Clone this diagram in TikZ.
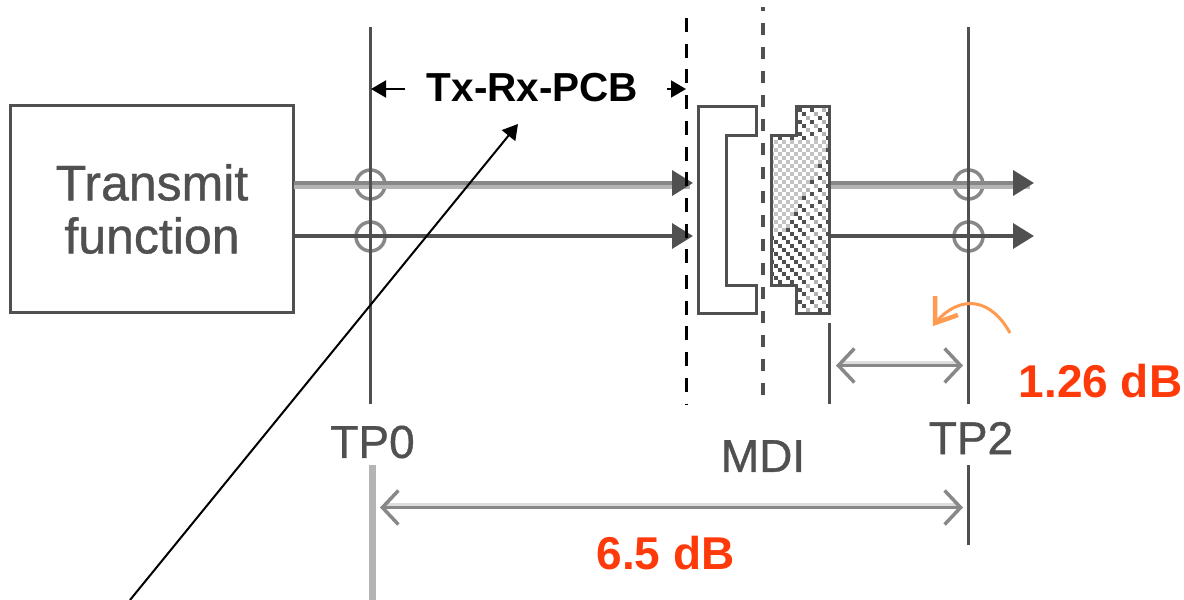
\documentclass[tikz,border=0pt]{standalone}
\usepackage{fontspec}
\setmainfont{Liberation Sans}
\newfontfamily\gf[FakeBold=0.8]{Liberation Sans}
\usetikzlibrary{arrows.meta}
\definecolor{dk}{HTML}{505050}
\definecolor{md}{HTML}{888888}
\definecolor{lt}{HTML}{B4B4B4}
\definecolor{vl}{HTML}{DDDDDD}
\definecolor{redt}{HTML}{FF3A0A}
\definecolor{org}{HTML}{FF9A50}
\tikzset{
  x=1pt,y=-1pt,
  shp/.style={draw=dk,line width=3pt,miter limit=10},
  vline/.style={draw=dk,line width=3pt},
  grayt/.style={text=dk,font=\gf\fontsize{46}{46}\selectfont,inner sep=0pt},
  redl/.style={text=redt,font=\bfseries\fontsize{46}{46}\selectfont,inner sep=0pt},
  tp/.style={circle,draw=md,line width=3.5pt,minimum size=29pt,inner sep=0pt},
  head/.style={-{Triangle[length=21pt,width=25pt,color=dk]}},
  dimtip/.style={{Straight Barb[length=16pt,width=34pt,line width=3.5pt,color=md]}-{Straight Barb[length=16pt,width=34pt,line width=3.5pt,color=md]}},
  blk/.style={-{Triangle[length=15pt,width=17pt,color=black]},draw=black,line width=2pt}
}
\begin{document}
\begin{tikzpicture}
\useasboundingbox (0,0) rectangle (1184,600);
% coordinates
\coordinate (tp0t) at (370,27); \coordinate (tp0b) at (370,404);
\coordinate (tp0lt) at (372,465); \coordinate (tp0lb) at (372,600);
\coordinate (tp2t) at (968,27); \coordinate (tp2b) at (968,404);
\coordinate (tp2lt) at (968,465); \coordinate (tp2lb) at (968,545);
\coordinate (mdit) at (829,323); \coordinate (mdib) at (829,404);
\coordinate (d1t) at (686,18); \coordinate (d1b) at (686,404);
\coordinate (d2t) at (763,7); \coordinate (d2b) at (763,404);
% box
\node[draw=dk,line width=3pt,minimum width=283pt,minimum height=207pt,inner sep=0pt,
  anchor=north west,align=center,text=dk,font=\gf\fontsize{50}{53}\selectfont] (tx) at (9,104) {Transmit\\function};
% circles
\node[tp] (c1) at (370.5,184.5) {};
\node[tp] (c2) at (370.5,236.5) {};
\node[tp] (c3) at (968.5,184.5) {};
\node[tp] (c4) at (968.5,236.5) {};
% signal lines
\coordinate (a1) at (294,183); \coordinate (a1e) at (693,183);
\coordinate (a1b) at (294,187); \coordinate (a1be) at (690,187);
\coordinate (a2) at (294,236); \coordinate (a2e) at (693,236);
\draw[draw=lt,line width=4pt] (a1b) -- (a1be);
\draw[draw=md,line width=4pt,head] (a1) -- (a1e);
\draw[draw=dk,line width=3.5pt,head] (a2) -- (a2e);
\coordinate (b1) at (829,183); \coordinate (b1e) at (1034,183);
\coordinate (b1b) at (829,187); \coordinate (b1be) at (1030,187);
\coordinate (b2) at (829,236); \coordinate (b2e) at (1034,236);
\draw[draw=lt,line width=4pt] (b1b) -- (b1be);
\draw[draw=md,line width=4pt,head] (b1) -- (b1e);
\draw[draw=dk,line width=3.5pt,head] (b2) -- (b2e);
% verticals
\draw[vline] (tp0t) -- (tp0b);
\draw[draw=lt,line width=7pt] (tp0lt) -- (tp0lb);
\draw[vline] (tp2t) -- (tp2b);
\draw[vline] (tp2lt) -- (tp2lb);
\draw[vline] (mdit) -- (mdib);
\draw[draw=black,line width=3pt,dash pattern=on 14pt off 11.7pt] (d1t) -- (d1b);
\draw[vline,line width=3.5pt,dash pattern=on 12.5pt off 11.5pt,dash phase=8.5pt] (d2t) -- (d2b);
% jack
\draw[shp,fill=white] (698,106) -- (756,106) -- (756,135) -- (726,135) -- (726,285) -- (756,285) -- (756,313) -- (698,313) -- cycle;
% plug
\begin{scope}
\fill[white] (771,135) -- (796,135) -- (796,106) -- (829,106) -- (829,313) -- (796,313) -- (796,285) -- (771,285) -- cycle;
\clip (771,135) -- (796,135) -- (796,106) -- (829,106) -- (829,313) -- (796,313) -- (796,285) -- (771,285) -- cycle;
\foreach \i in {0,...,15}{
  \foreach \j in {0,...,52}{
    \pgfmathtruncatemacro{\dg}{mod(\i+\j*2,6)}
    \pgfmathtruncatemacro{\ch}{mod(\i+\j,2)}
    \pgfmathtruncatemacro{\lf}{(\j>8 && \j<32 && \i<15-0.5*(\j-9)) ? 1:0}
    \ifnum\lf=1
      \ifnum\ch=0 \fill[lt!80] ({770+\i*4},{104+\j*4}) rectangle +(4,4); \fi
    \else
      \ifnum\dg=0
        \fill[dk] ({770+\i*4},{104+\j*4}) rectangle +(4,4);
      \else
        \ifnum\dg=3
          \ifnum\i>8 \fill[lt] ({770+\i*4},{104+\j*4}) rectangle +(4,4);
          \else \fill[dk] ({770+\i*4},{104+\j*4}) rectangle +(4,4); \fi
        \fi
      \fi
    \fi
  }
}
\end{scope}
\draw[shp] (771,135) -- (796,135) -- (796,106) -- (829,106) -- (829,313) -- (796,313) -- (796,285) -- (771,285) -- cycle;
% dimension arrows
\coordinate (m1) at (836,365.5); \coordinate (m2) at (963,365.5);
\draw[draw=vl,line width=3.5pt] (840,362.5) -- (958,362.5);
\draw[draw=md,line width=3.5pt,dimtip] (m1) -- (m2);
\coordinate (n1) at (380,507.5); \coordinate (n2) at (963,507.5);
\draw[draw=vl,line width=3.5pt] (385,504.5) -- (958,504.5);
\draw[draw=md,line width=3.5pt,dimtip] (n1) -- (n2);
% orange
\coordinate (o1) at (1010,333); \coordinate (o2) at (935,323);
\coordinate (o3) at (935,296); \coordinate (o4) at (958,315);
\draw[draw=org,line width=3pt] (o1) .. controls (992,300) and (962,292) .. (o2);
\draw[draw=org,line width=4.5pt] (o3) -- (o2) -- (o4);
% labels
\node[anchor=center,font=\bfseries\fontsize{40.5}{40.5}\selectfont,inner sep=0pt] (pcb) at (532.5,88) {Tx-Rx-PCB};
\coordinate (p1) at (405,89); \coordinate (p1e) at (371,89);
\coordinate (p2) at (667,89); \coordinate (p2e) at (686,89);
\draw[blk] (p1) -- (p1e);
\draw[blk] (p2) -- (p2e);
\coordinate (q1) at (130,600); \coordinate (q2) at (518,124);
\draw[blk] (q1) -- (q2);
\node[grayt] (tp0) at (372.5,442) {TP0};
\node[grayt] (mdi) at (763,456) {MDI};
\node[grayt] (tp2) at (971,438) {TP2};
\node[redl] (r1) at (1100.5,381) {1.26 dB};
\node[redl] (r2) at (665.5,553) {6.5 dB};
\end{tikzpicture}
\end{document}
